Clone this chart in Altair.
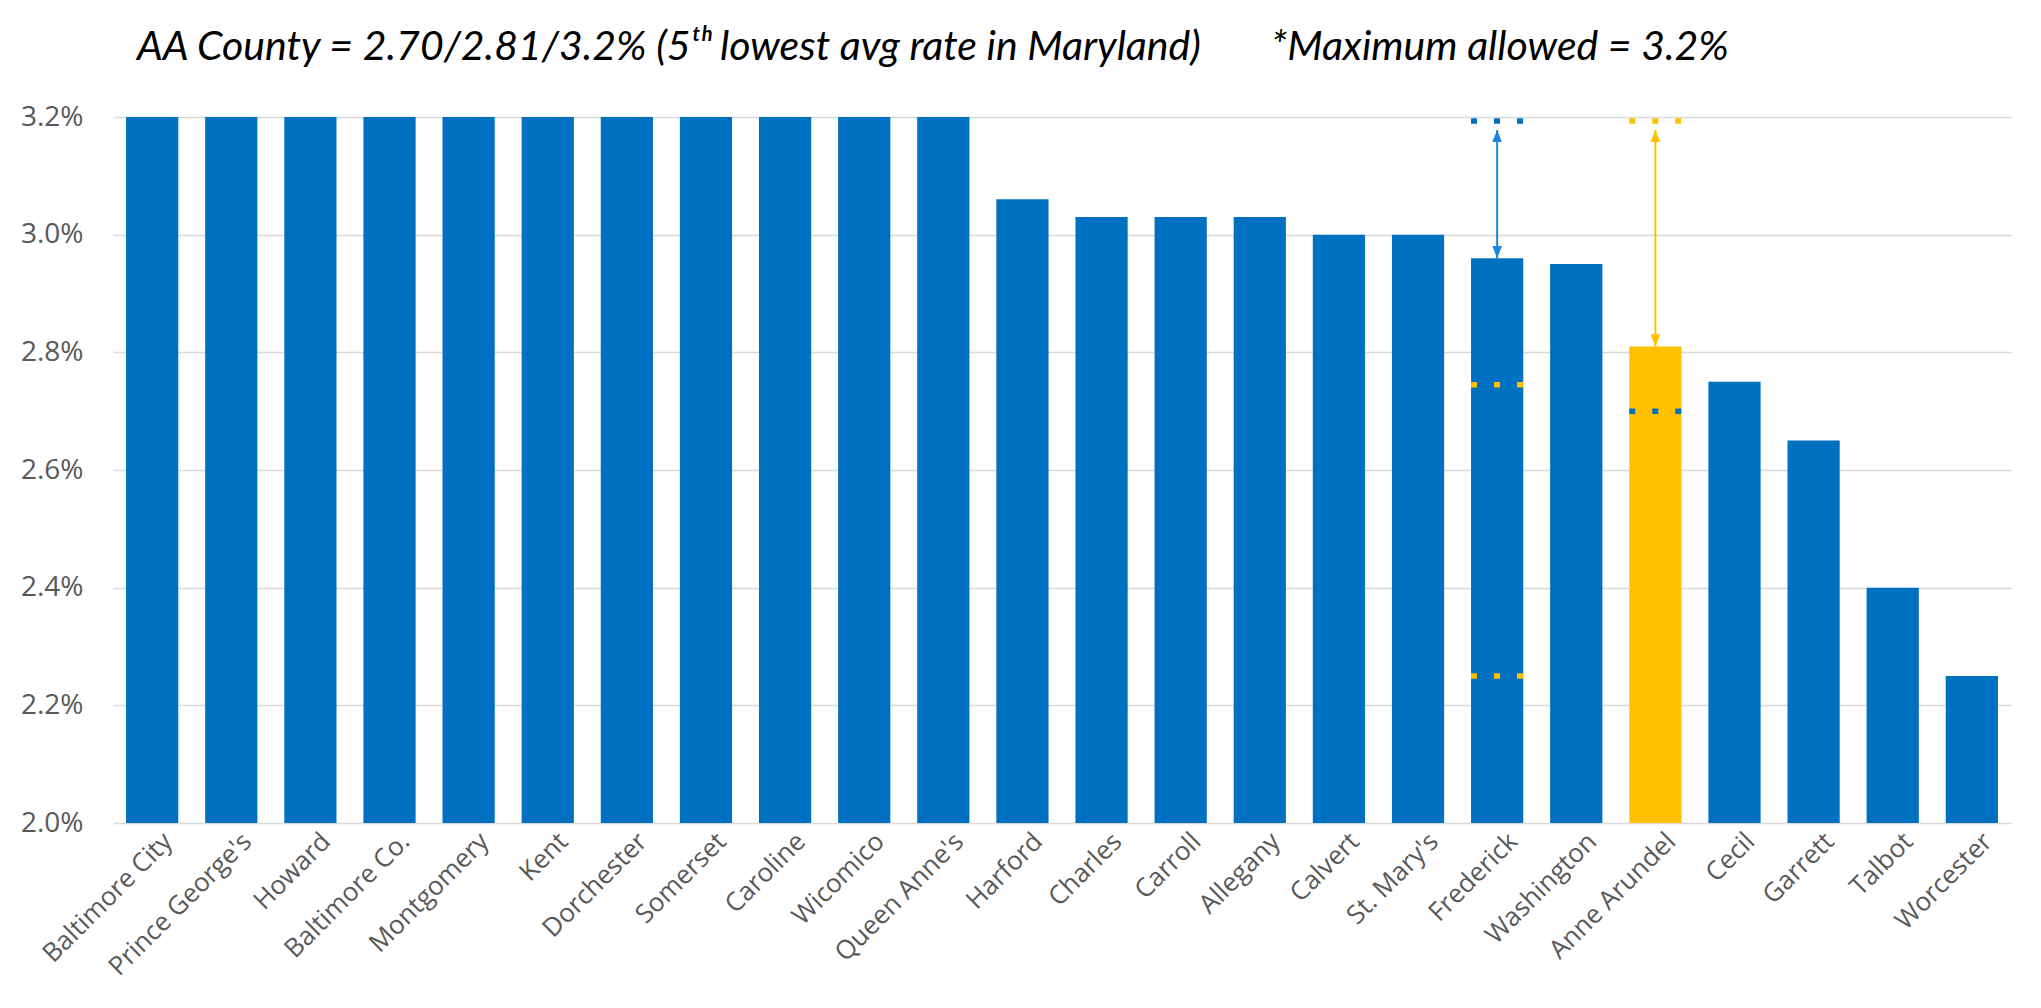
import altair as alt
import pandas as pd

# ---- data ----
counties = ["Baltimore City", "Prince George's", "Howard", "Baltimore Co.", "Montgomery",
            "Kent", "Dorchester", "Somerset", "Caroline", "Wicomico", "Queen Anne's",
            "Harford", "Charles", "Carroll", "Allegany", "Calvert", "St. Mary's",
            "Frederick", "Washington", "Anne Arundel", "Cecil", "Garrett", "Talbot", "Worcester"]
rates = [3.20, 3.20, 3.20, 3.20, 3.20, 3.20, 3.20, 3.20, 3.20, 3.20, 3.20,
         3.06, 3.03, 3.03, 3.03, 3.00, 3.00, 2.96, 2.95, 2.81, 2.75, 2.65, 2.40, 2.25]
highlight = "Anne Arundel"

marker_county = ["Frederick", "Frederick", "Frederick", "Anne Arundel", "Anne Arundel"]
marker_rate = [3.193, 2.745, 2.25, 3.193, 2.70]
marker_tone = ["blue", "gold", "gold", "gold", "blue"]

arrow_county = ["Frederick", "Anne Arundel"]
arrow_top = [3.178, 3.178]
arrow_bottom = [2.96, 2.81]
arrow_tone = ["light", "gold"]

y_ticks = [2.0, 2.2, 2.4, 2.6, 2.8, 3.0, 3.2]

title_left = "AA County = 2.70/2.81/3.2% (5\u1d57\u02b0 lowest avg rate in Maryland)"
title_right = "*Maximum allowed = 3.2%"

# ---- tables ----
bars = pd.DataFrame({"county": counties, "rate": rates,
                     "tone": ["gold" if c == highlight else "blue" for c in counties]})
markers = pd.DataFrame({"county": marker_county, "rate": marker_rate, "tone": marker_tone})
arrows = pd.DataFrame({"county": arrow_county, "top": arrow_top, "bottom": arrow_bottom,
                       "tone": arrow_tone})
heads = pd.concat([
    pd.DataFrame({"county": arrow_county, "rate": arrow_top, "dir": "up", "tone": arrow_tone}),
    pd.DataFrame({"county": arrow_county, "rate": arrow_bottom, "dir": "down", "tone": arrow_tone}),
])

xscale = alt.Scale(domain=counties, paddingInner=0.34, paddingOuter=0.165)
yscale = alt.Scale(domain=[2.0, 3.2], nice=False, zero=False)
cscale = alt.Scale(domain=["blue", "gold", "light"], range=["#0070C0", "#FFC000", "#1C86DC"])

x_axis = alt.Axis(title=None, labelAngle=-45, labelAlign="right", labelBaseline="middle",
                  labelFont="Open Sans", labelFontSize=26, labelColor="#595959",
                  labelPadding=14, labelOffset=16, labelLimit=400,
                  ticks=False, domain=False, grid=False)
y_axis = alt.Axis(title=None, values=y_ticks, labelExpr="format(datum.value, '.1f') + '%'",
                  labelFont="Open Sans", labelFontSize=28, labelColor="#595959",
                  labelPadding=30, ticks=False, domain=False, grid=True,
                  gridColor="#D9D9D9", gridWidth=1.4)

bar_layer = alt.Chart(bars).mark_bar(clip=True).encode(
    x=alt.X("county:N", scale=xscale, axis=x_axis, sort=counties),
    y=alt.Y("rate:Q", scale=yscale, axis=y_axis),
    y2=alt.datum(2.0),
    color=alt.Color("tone:N", scale=cscale, legend=None),
)

marker_layer = alt.Chart(markers).mark_rule(strokeWidth=5.5, strokeDash=[6, 17], strokeCap="butt").encode(
    x=alt.X("county:N", scale=xscale, bandPosition=0, sort=counties),
    x2=alt.X2("county", bandPosition=1),
    y=alt.Y("rate:Q", scale=yscale),
    color=alt.Color("tone:N", scale=cscale, legend=None),
)

arrow_layer = alt.Chart(arrows).mark_rule(strokeWidth=2).encode(
    x=alt.X("county:N", scale=xscale, sort=counties),
    y=alt.Y("top:Q", scale=yscale),
    y2="bottom:Q",
    color=alt.Color("tone:N", scale=cscale, legend=None),
)

head_layer = alt.Chart(heads).mark_point(filled=True, size=260, opacity=1, strokeWidth=0).encode(
    x=alt.X("county:N", scale=xscale, sort=counties),
    y=alt.Y("rate:Q", scale=yscale),
    shape=alt.Shape("dir:N", scale=alt.Scale(domain=["up", "down"],
                                             range=["M0,0L-0.6,1.5L0.6,1.5Z", "M0,0L-0.6,-1.5L0.6,-1.5Z"]),
                    legend=None),
    color=alt.Color("tone:N", scale=cscale, legend=None),
)

t_left = alt.Chart(pd.DataFrame({"t": [title_left]})).mark_text(
    font="Lato", fontStyle="italic", fontSize=41, align="left", baseline="alphabetic", color="#000000"
).encode(text="t:N", x=alt.value(24), y=alt.value(-57))

t_right = alt.Chart(pd.DataFrame({"t": [title_right]})).mark_text(
    font="Lato", fontStyle="italic", fontSize=41, align="left", baseline="alphabetic", color="#000000"
).encode(text="t:N", x=alt.value(1158), y=alt.value(-57))

chart = alt.layer(bar_layer, marker_layer, arrow_layer, head_layer, t_left, t_right).properties(
    width=1898, height=706,
    padding={"left": 105, "top": 109, "right": 22, "bottom": 170},
    autosize=alt.AutoSizeParams(type="none"),
    background="#FFFFFF",
).configure_view(stroke=None)

chart.save("out.html", embed_options={"renderer": "svg", "actions": False})
